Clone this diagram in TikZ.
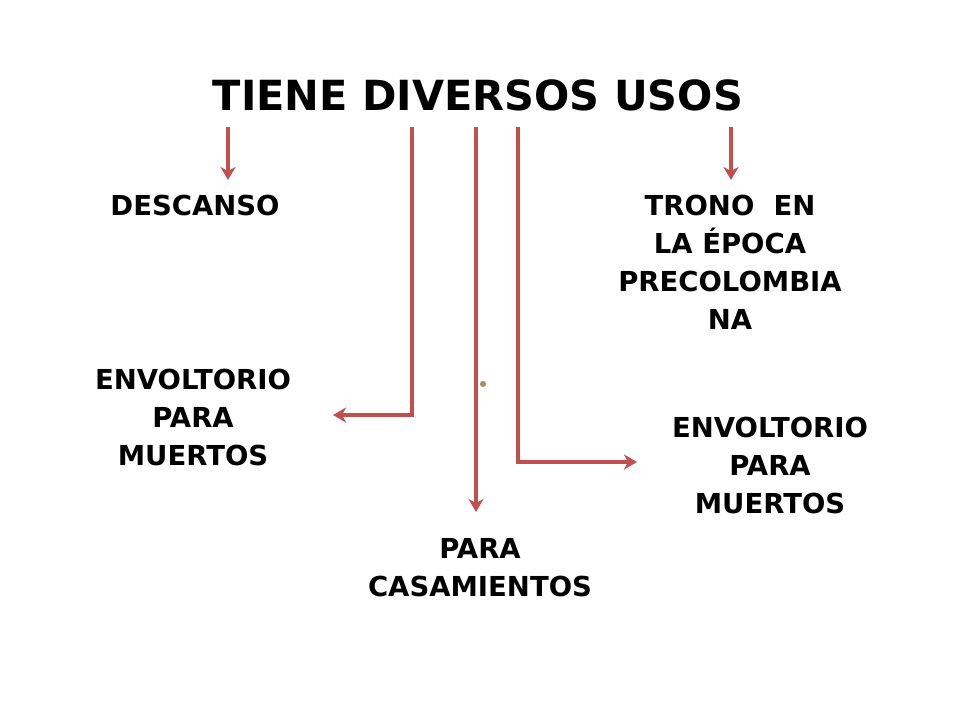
\documentclass[tikz,border=0pt]{standalone}
\usepackage{fontspec}
\setmainfont{DejaVu Sans}
\usetikzlibrary{arrows.meta}
\definecolor{arr}{RGB}{192,80,77}
\definecolor{dotc}{RGB}{160,150,90}
\begin{document}
\begin{tikzpicture}[x=1pt,y=-1pt,
  conn/.style={draw=arr,line width=3.5pt,-{Stealth[length=13pt,width=15pt,inset=4pt]}},
  lbl/.style={font=\fontsize{27.5}{38}\selectfont\bfseries,align=center,text=black}]
\useasboundingbox (0,0) rectangle (960,720);
\node[font=\fontsize{41.5}{48}\selectfont\bfseries] (t) at (478,95) {TIENE DIVERSOS USOS};
\node[lbl] (d) at (195,205) {DESCANSO};
\node[lbl] (tr) at (730,262) {TRONO\ \ EN\\LA ÉPOCA\\PRECOLOMBIA\\NA};
\node[lbl] (e1) at (193,417) {ENVOLTORIO\\PARA\\MUERTOS};
\node[lbl] (e2) at (770,465) {ENVOLTORIO\\PARA\\MUERTOS};
\node[lbl] (c) at (480,568) {PARA\\CASAMIENTOS};
\node[circle,fill=dotc,inner sep=2.2pt] (dot) at (483,384) {};
\coordinate (s1) at (228,127);
\coordinate (s2) at (412,127);
\coordinate (s3) at (476,127);
\coordinate (s4) at (518,127);
\coordinate (s5) at (731,127);
\coordinate (a1) at (228,180);
\coordinate (a5) at (731,180);
\coordinate (a2) at (333,415);
\coordinate (a3) at (476,512);
\coordinate (a4) at (637,462);
\draw[conn] (s1) -- (a1);
\draw[conn] (s5) -- (a5);
\draw[conn] (s2) |- (a2);
\draw[conn] (s3) -- (a3);
\draw[conn] (s4) |- (a4);
\end{tikzpicture}
\end{document}
